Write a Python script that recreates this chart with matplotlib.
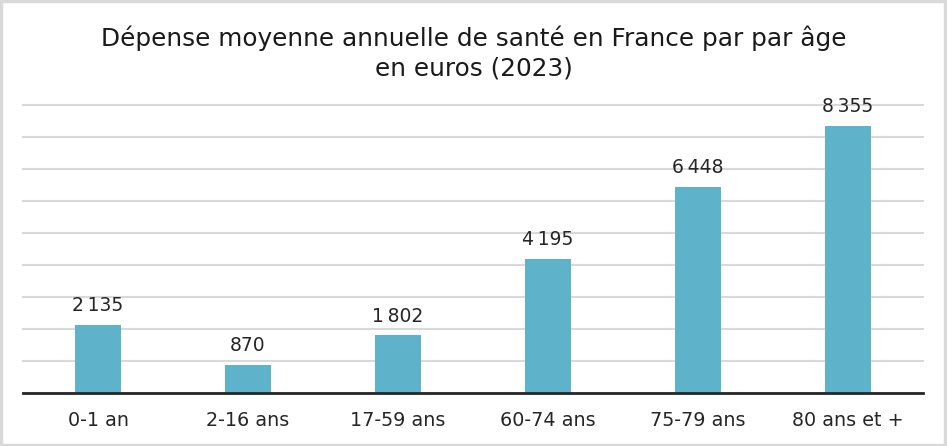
import matplotlib.pyplot as plt
from matplotlib.patches import Rectangle

categories = ["0-1 an", "2-16 ans", "17-59 ans", "60-74 ans", "75-79 ans", "80 ans et +"]
values = [2135, 870, 1802, 4195, 6448, 8355]

plt.rcParams['font.family'] = ['DejaVu Sans']

fig = plt.figure(figsize=(9.47, 4.46), dpi=100)
ax = fig.add_axes([23 / 947, 53 / 446, 900 / 947, 288 / 446])

x = range(len(categories))
bars = ax.bar(x, values, width=0.31, color="#5eb2ca", zorder=3)
ax.set_xlim(-0.5, len(categories) - 0.5)
ax.set_ylim(0, 9000)
ax.set_yticks(range(0, 9001, 1000))
ax.set_yticklabels([])
ax.tick_params(axis='y', length=0)
ax.grid(axis='y', color="#d9d9d9", linewidth=1.5, zorder=0)
for gl in ax.get_ygridlines():
    gl.set_clip_on(False)
ax.set_xticks(list(x))
ax.set_xticklabels(categories, fontsize=13.8, color="#262626")
ax.tick_params(axis='x', length=0, pad=13)
for side in ["top", "left", "right"]:
    ax.spines[side].set_visible(False)
ax.spines["bottom"].set_color("#262626")
ax.spines["bottom"].set_linewidth(2)
ax.spines["bottom"].set_zorder(4)

for bar, v in zip(bars, values):
    label = f"{v:,}".replace(",", "\u2009")
    ax.annotate(label, (bar.get_x() + bar.get_width() / 2, v),
                xytext=(0, 7), textcoords="offset points",
                ha="center", va="bottom", fontsize=13.5, color="#262626")

fig.text(0.5, 1 - 53 / 446, "Dépense moyenne annuelle de santé en France par par âge\nen euros (2023)",
         ha="center", va="center", fontsize=17.8, color="#1a1a1a", linespacing=1.25)

fig.patches.append(Rectangle((0.001, 0.002), 0.997, 0.995, transform=fig.transFigure,
                             fill=False, edgecolor="#d9d9d9", linewidth=2.5))

fig.savefig("out.png", dpi=100)
